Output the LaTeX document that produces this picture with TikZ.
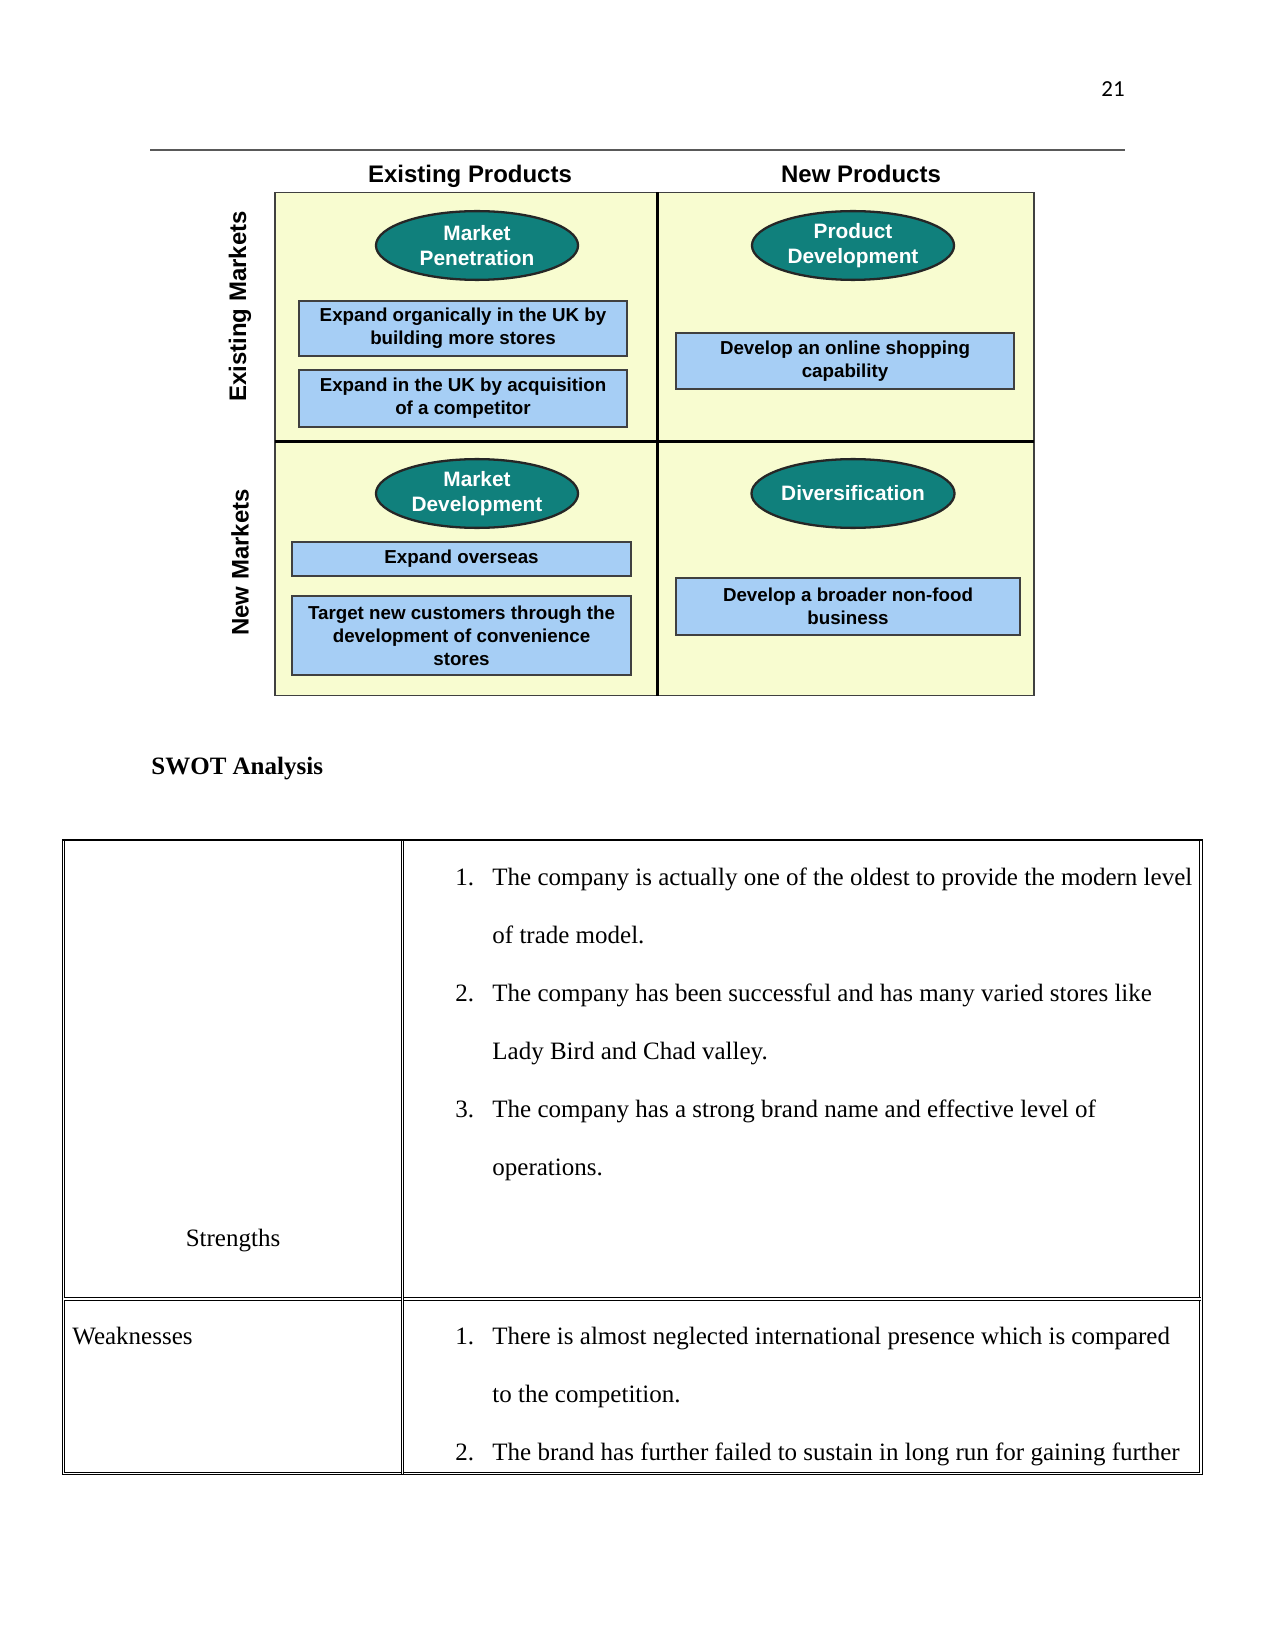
\documentclass[tikz,border=0pt]{standalone}
\usepackage{fontspec}
\setmainfont{Liberation Serif}
\newfontfamily\arialfont{Liberation Sans}
\newfontfamily\calibrifont{Carlito}
\usetikzlibrary{shapes.geometric}
\definecolor{gridbg}{RGB}{248,252,208}
\definecolor{tealfill}{RGB}{16,128,124}
\definecolor{boxblue}{RGB}{166,206,245}

\begin{document}
\begin{tikzpicture}[x=0.48pt,y=-0.48pt,
  head/.style={font=\arialfont\bfseries\fontsize{11.5}{13}\selectfont,inner sep=0pt},
  strat/.style={ellipse,draw=black!85,line width=1.1pt,fill=tealfill,text=white,
    font=\arialfont\bfseries\fontsize{10}{12}\selectfont,align=center,
    minimum width=97pt,minimum height=33pt,inner sep=0pt},
  act/.style={draw=black!75,line width=0.6pt,fill=boxblue,align=center,inner sep=0pt,
    font=\arialfont\bfseries\fontsize{9}{11}\selectfont},
  body/.style={anchor=base west,inner sep=0pt,font=\fontsize{12}{14}\selectfont},
  dbl/.style={line width=0.45pt,double,double distance=0.75pt}]
\useasboundingbox (0,0) rectangle (1275,1650);

% page head
\node[font=\calibrifont\fontsize{11}{13}\selectfont,anchor=base] (pgno) at (1113,97) {21};
\draw[black!65,line width=0.7pt] (150,150) -- (1125,150);

% Ansoff grid
\draw[black!75,line width=0.9pt,fill=gridbg] (275,192.5) rectangle (1034,695.5);
\draw[line width=1.4pt] (657.5,192.5) -- (657.5,695.5);
\draw[line width=1.6pt] (275,441.5) -- (1034,441.5);
\node[head,anchor=base] (colep) at (470,183) {Existing Products};
\node[head,anchor=base] (colnp) at (861,183) {New Products};
\node[head,rotate=90] (rowem) at (240,306.5) {Existing Markets};
\node[head,rotate=90] (rownm) at (240,562.5) {New Markets};

\node[strat] (mpen) at (477,245.5) {Market\\Penetration};
\node[strat] (pdev) at (853,245.5) {Product\\Development};
\node[strat] (mdev) at (477,493.5) {Market\\Development};
\node[strat] (divr) at (853,493.5) {Diversification};

\foreach \n/\cx/\cy/\w/\h/\t in {
  op1/463/328.5/157.4/26.4/{Expand organically in the UK by\\building more stores},
  op2/463/398.5/157.4/27.4/{Expand in the UK by acquisition\\of a competitor},
  pd1/845/361/162.2/26.9/{Develop an online shopping\\capability},
  md1/461.5/559/162.7/16.3/{Expand overseas},
  md2/461.5/635.5/162.7/37.9/{Target new customers through the\\development of convenience\\stores},
  dv1/848/606.5/165.1/27.4/{Develop a broader non-food\\business}}{
  \node[act,minimum width=\w pt,minimum height=\h pt] (\n) at (\cx,\cy) {\t};}

% SWOT table
\node[anchor=base west,inner sep=0pt,font=\bfseries\fontsize{12}{14}\selectfont] (swot) at (151,774) {SWOT Analysis};
\draw[dbl] (63.5,841) -- (63.5,1473.5) -- (1201,1473.5) -- (1201,841);
\draw[dbl] (63.5,1299) -- (1201,1299);
\draw[dbl] (402.5,841) -- (402.5,1473.5);
\draw[line width=1.3pt] (62,840) -- (1202.5,840);

\node[body,anchor=base] (str) at (233,1246) {Strengths};
\node[body] (weak) at (72,1344.5) {Weaknesses};

\foreach \k/\y in {1/885,2/1001.4,3/1117.8}{
  \node[body] (sn\k) at (455,\y) {\k.};}
\foreach \k/\y in {1/1344.5,2/1460}{
  \node[body] (wn\k) at (455,\y) {\k.};}
\foreach \k/\y/\t in {
  1/885/{The company is actually one of the oldest to provide the modern level},
  2/943.2/{of trade model.},
  3/1001.4/{The company has been successful and has many varied stores like},
  4/1059.6/{Lady Bird and Chad valley.},
  5/1117.8/{The company has a strong brand name and effective level of},
  6/1175/{operations.},
  7/1344.5/{There is almost neglected international presence which is compared},
  8/1402.2/{to the competition.},
  9/1460/{The brand has further failed to sustain in long run for gaining further}}{
  \node[body] (ln\k) at (492,\y) {\t};}
\end{tikzpicture}
\end{document}
